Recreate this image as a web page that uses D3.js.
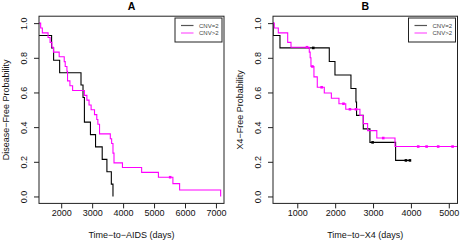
<!DOCTYPE html>
<html>
<head>
<meta charset="utf-8">
<script src="https://cdn.jsdelivr.net/npm/d3@7"></script>
<style>
  body { margin: 0; background: #fff; }
  svg { display: block; font-family: "Liberation Sans", Arial, sans-serif; }
</style>
</head>
<body>
<main></main>
<script>
// survival step data (time in days, survival after the step)
const aCnv2Time = [1200, 1690, 1755, 1950, 2640, 2705, 2750, 2945, 3110, 3325, 3477, 3620, 3673];
const aCnv2Surv = [0.929, 0.857, 0.786, 0.714, 0.643, 0.571, 0.429, 0.357, 0.286, 0.214, 0.143, 0.071, 0];
const aCnv2Cens = [];

const aCnvGt2Time = [1337, 1391, 1576, 1641, 1700, 1750, 1935, 2098, 2130, 2185, 2205, 2282, 2369, 2750, 2830, 2900, 2967, 3076, 3150, 3185, 3239, 3587, 3630, 3673, 3706, 3979, 4599, 5141, 5609, 5826, 7152];
const aCnvGt2Surv = [0.972, 0.944, 0.917, 0.889, 0.861, 0.833, 0.806, 0.778, 0.75, 0.722, 0.667, 0.639, 0.611, 0.583, 0.556, 0.528, 0.5, 0.472, 0.444, 0.417, 0.361, 0.333, 0.306, 0.25, 0.194, 0.167, 0.139, 0.111, 0.074, 0.037, 0];
const aCnvGt2Cens = [5521];

const bCnv2Time = [362, 543, 1845, 1995, 2417, 2549, 2565, 2742, 2918, 3596];
const bCnv2Surv = [0.929, 0.857, 0.779, 0.701, 0.623, 0.545, 0.468, 0.390, 0.312, 0.208];
const bCnv2Cens = [1422, 2989, 3868, 3974];

const bCnvGt2Time = [393, 499, 747, 834, 1317, 1340, 1361, 1440, 1528, 1713, 1900, 2100, 2280, 2654, 2742, 2857, 3100, 3580];
const bCnvGt2Surv = [0.972, 0.944, 0.889, 0.861, 0.833, 0.80, 0.75, 0.69, 0.63, 0.597, 0.567, 0.535, 0.503, 0.467, 0.42, 0.38, 0.337, 0.288];
const bCnvGt2Cens = [1256, 1400, 1643, 2220, 2390, 2549, 3269, 4193, 4414, 4720, 5100, 5300];

const aTicks = [2000, 3000, 4000, 5000, 6000, 7000];
const bTicks = [1000, 2000, 3000, 4000, 5000];
const yTicks = [0, 0.2, 0.4, 0.6, 0.8, 1.0];
const legendLabels = ["CNV=2", "CNV>2"];
const colors = ["#000000", "#ff00ff"];

const panels = [
  {
    title: "A", left: 39, right: 224, domain: [1283, 7260], ticks: aTicks,
    xTitle: "Time\u2212to\u2212AIDS (days)", yTitle: "Disease\u2212Free Probability",
    series: [
      { time: aCnv2Time, surv: aCnv2Surv, cens: aCnv2Cens },
      { time: aCnvGt2Time, surv: aCnvGt2Surv, cens: aCnvGt2Cens }
    ]
  },
  {
    title: "B", left: 273, right: 457.5, domain: [359, 5230], ticks: bTicks,
    xTitle: "Time\u2212to\u2212X4 (days)", yTitle: "X4\u2212Free Probability",
    series: [
      { time: bCnv2Time, surv: bCnv2Surv, cens: bCnv2Cens },
      { time: bCnvGt2Time, surv: bCnvGt2Surv, cens: bCnvGt2Cens }
    ]
  }
];

const plotTop = 16.2, plotBottom = 203.4;

const svg = d3.select("main").append("svg")
  .attr("width", 460)
  .attr("height", 243);

const y = d3.scaleLinear().domain([-0.04, 1.04]).range([plotBottom, plotTop]);

const line = d3.line()
  .x(d => d.x)
  .y(d => d.y)
  .curve(d3.curveStepAfter);

panels.forEach((p, pi) => {
  const x = d3.scaleLinear().domain(p.domain).range([p.left, p.right]);
  const g = svg.append("g");

  const clipId = "clip" + pi;
  svg.append("clipPath").attr("id", clipId)
    .append("rect")
      .attr("x", p.left).attr("y", plotTop)
      .attr("width", p.right - p.left).attr("height", plotBottom - plotTop);

  // curves
  const curves = g.append("g").attr("clip-path", `url(#${clipId})`);
  p.series.forEach((s, si) => {
    const pts = [{ x: x(0), y: y(1) }];
    s.time.forEach((t, i) => pts.push({ x: x(t), y: y(s.surv[i]) }));
    const lastCens = s.cens.length ? d3.max(s.cens) : 0;
    const lastTime = d3.max(s.time);
    if (lastCens > lastTime) pts.push({ x: x(lastCens), y: y(s.surv[s.surv.length - 1]) });

    curves.append("path")
      .attr("d", line(pts))
      .style("fill", "none")
      .style("stroke", colors[si])
      .style("stroke-width", 1.1);

    // censor marks
    const survAt = (t) => {
      let v = 1;
      s.time.forEach((tt, i) => { if (tt <= t) v = s.surv[i]; });
      return v;
    };
    curves.selectAll(".cens" + si)
      .data(s.cens).enter()
      .append("rect")
        .attr("x", d => x(d) - 1.3)
        .attr("y", d => y(survAt(d)) - 1.3)
        .attr("width", 2.6)
        .attr("height", 2.6)
        .style("fill", colors[si]);
  });

  // box
  g.append("rect")
    .attr("x", p.left).attr("y", plotTop)
    .attr("width", p.right - p.left).attr("height", plotBottom - plotTop)
    .style("fill", "none")
    .style("stroke", "#222")
    .style("stroke-width", 1);

  // x axis
  const xa = g.append("g")
    .attr("transform", `translate(0,${plotBottom})`)
    .call(d3.axisBottom(x).tickValues(p.ticks).tickSize(5).tickFormat(d3.format("d")));
  xa.select(".domain").remove();
  xa.selectAll("line").style("stroke", "#222");
  xa.selectAll("text")
    .attr("y", 12.8).attr("dy", 0)
    .style("font-size", "9px")
    .style("fill", "#111");

  // y axis
  const ya = g.append("g")
    .attr("transform", `translate(${p.left},0)`)
    .call(d3.axisLeft(y).tickValues(yTicks).tickSize(5).tickFormat(d3.format(".1f")));
  ya.select(".domain").remove();
  ya.selectAll("line").style("stroke", "#222");
  ya.selectAll("text")
    .attr("x", 0).attr("dy", 0)
    .attr("text-anchor", "middle")
    .attr("transform", "translate(-11.7,0) rotate(-90)")
    .style("font-size", "9px")
    .style("fill", "#111");

  const cx = (p.left + p.right) / 2;
  g.append("text")
    .attr("x", cx).attr("y", 10.2)
    .attr("text-anchor", "middle")
    .style("font-size", "10.5px")
    .style("font-weight", "bold")
    .text(p.title);

  g.append("text")
    .attr("x", cx).attr("y", 238)
    .attr("text-anchor", "middle")
    .style("font-size", "9px")
    .style("fill", "#111")
    .text(p.xTitle);

  g.append("text")
    .attr("transform", `translate(${p.left - 29.6},${(plotTop + plotBottom) / 2}) rotate(-90)`)
    .attr("text-anchor", "middle")
    .style("font-size", "9px")
    .style("fill", "#111")
    .text(p.yTitle);

  // legend
  const lw = 47, lh = 24;
  const lx = p.right - 2 - lw, ly = 18;
  const leg = g.append("g").attr("transform", `translate(${lx},${ly})`);
  leg.append("rect")
    .attr("width", lw).attr("height", lh)
    .style("fill", "#fff")
    .style("stroke", "#222")
    .style("stroke-width", 1);
  const items = leg.selectAll(".item")
    .data(legendLabels).enter()
    .append("g")
      .attr("class", "item")
      .attr("transform", (d, i) => `translate(0,${7.5 + i * 7.5})`);
  items.append("line")
    .attr("x1", 6).attr("x2", 18.5)
    .style("stroke", (d, i) => i ? "#ff55ff" : "#555")
    .style("stroke-width", 1.2);
  items.append("text")
    .text(d => d)
    .attr("x", 24).attr("dy", "0.35em")
    .style("font-size", "6px")
    .style("fill", "#444");
});
</script>
</body>
</html>
